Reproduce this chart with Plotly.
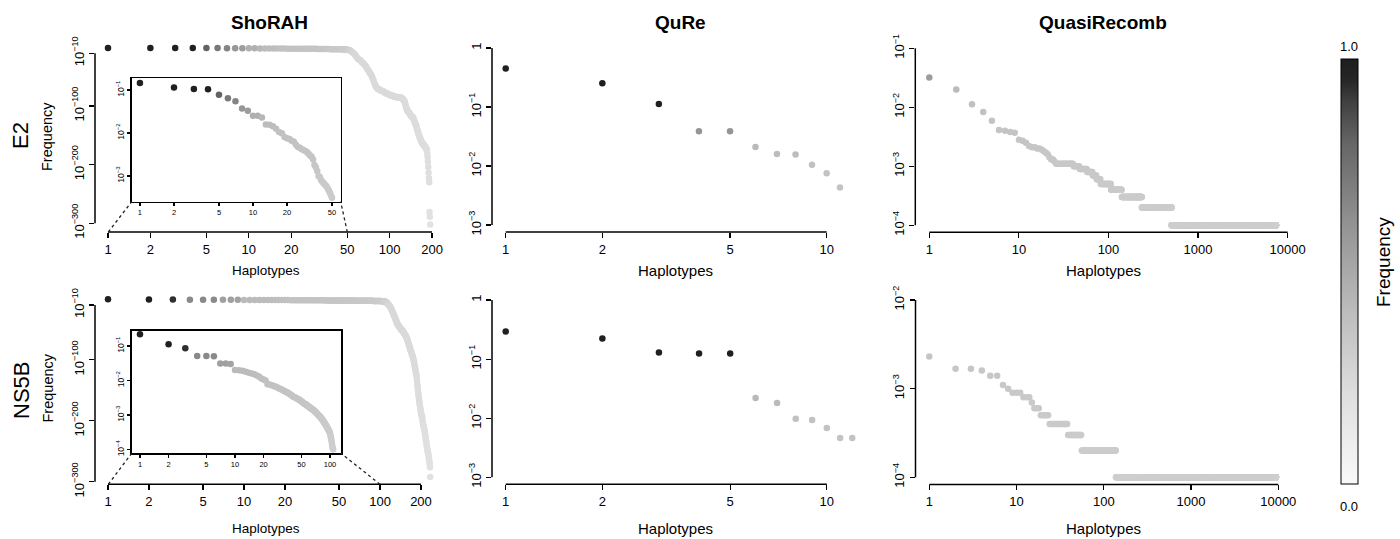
import numpy as np
import plotly.graph_objects as go

W, H = 1400, 539
FONT = "Liberation Sans, Arial, Helvetica, sans-serif"

# ------------------------------------------------------------------ data
# ShoRAH, E2: first 50 haplotypes (shown in inset) + tail (log10 of frequency)
shorah_e2_head = [0.145, 0.115, 0.105, 0.104, 0.077, 0.064, 0.055, 0.037, 0.033, 0.025,
                  0.025, 0.023, 0.0158, 0.0155, 0.0143, 0.0125, 0.0105, 0.0098, 0.0080, 0.0075,
                  0.0072, 0.0066, 0.0062, 0.0053, 0.0047, 0.0045, 0.0042, 0.0040, 0.0038, 0.0036,
                  0.0033, 0.0030, 0.0028, 0.0024, 0.0018, 0.0016, 0.0013, 0.0010, 0.00095, 0.00080,
                  0.00074, 0.00068, 0.00064, 0.00060, 0.00056, 0.00050, 0.00045, 0.00040, 0.00035, 0.00031]
shorah_e2_tail_log10 = [-4.5, -5, -6, -8, -9, -11, -13, -16, -18, -20,
                        -21, -22, -24, -26, -27, -29, -31, -33, -35, -38,
                        -40, -43, -45, -47, -50, -54, -57, -61, -64, -67,
                        -69, -70, -71, -72, -72, -73, -74, -74, -75, -75,
                        -76, -77, -77, -78, -78, -79, -79, -80, -80, -81,
                        -81, -82, -82, -82, -83, -83, -83, -84, -84, -84,
                        -84, -85, -85, -85, -85, -85, -86, -86, -86, -86,
                        -86, -86, -87, -88, -89, -90, -91, -93, -96, -99,
                        -102, -105, -107, -108, -109, -110, -111, -112, -113, -115,
                        -116, -117, -117, -118, -119, -119, -120, -122, -124, -126,
                        -128, -130, -131, -133, -135, -137, -140, -142, -144, -147,
                        -149, -151, -152, -154, -156, -157, -159, -160, -162, -163,
                        -164, -165, -165, -166, -167, -168, -168, -169, -170, -171,
                        -172, -173, -174, -175, -181, -187, -195, -204, -214, -223,
                        -230, -281, -289, -302]

# ShoRAH, NS5B: first 108 haplotypes (inset) + tail (log10 of frequency)
shorah_ns5b_head = [0.22, 0.112, 0.086, 0.051, 0.051, 0.050, 0.031, 0.031, 0.030, 0.0200,
                    0.0198, 0.0190, 0.0180, 0.0168, 0.0160, 0.0152, 0.0140, 0.0128, 0.0115, 0.0106,
                    0.0100, 0.0078, 0.0076, 0.0074, 0.0071, 0.0068, 0.0066, 0.0063, 0.0060, 0.0057,
                    0.0055, 0.0052, 0.0050, 0.0048, 0.0046, 0.0044, 0.0042, 0.0040, 0.0038, 0.0036,
                    0.0034, 0.0033, 0.0032, 0.0031, 0.0030, 0.0029, 0.0028, 0.0027, 0.0026, 0.0025,
                    0.0024, 0.0023, 0.0022, 0.0021, 0.0021, 0.0020, 0.0019, 0.0019, 0.0018, 0.0017,
                    0.0017, 0.0016, 0.0016, 0.0015, 0.0015, 0.0014, 0.0014, 0.00135, 0.0013, 0.00125,
                    0.0012, 0.00115, 0.0011, 0.00105, 0.0010, 0.00098, 0.00095, 0.00091, 0.00088, 0.00084,
                    0.0008, 0.00077, 0.00074, 0.0007, 0.00067, 0.00064, 0.00061, 0.00058, 0.00055, 0.00052,
                    0.0005, 0.00047, 0.00044, 0.00042, 0.0004, 0.00038, 0.00036, 0.00034, 0.00032, 0.0003,
                    0.00026, 0.00023, 0.0002, 0.00017, 0.00014, 0.00012, 0.00011, 0.0001]
shorah_ns5b_tail_log10 = [-4.5, -5, -5.5, -6, -7, -8, -9, -10, -11, -12,
                          -13, -15, -17, -18, -20, -22, -24, -26, -28, -29,
                          -31, -33, -35, -37, -39, -41, -42, -43, -44, -45,
                          -46, -47, -48, -49, -50, -51, -51, -52, -53, -54,
                          -55, -56, -57, -58, -59, -60, -61, -63, -64, -65,
                          -67, -69, -71, -73, -75, -77, -79, -81, -83, -85,
                          -86, -88, -90, -92, -93, -95, -97, -99, -101, -104,
                          -107, -110, -113, -116, -119, -122, -125, -128, -134, -140,
                          -145, -150, -155, -158, -162, -166, -170, -174, -177, -180,
                          -183, -186, -189, -191, -193, -195, -198, -201, -204, -207,
                          -209, -211, -213, -215, -218, -221, -224, -227, -230, -233,
                          -236, -239, -242, -245, -248, -250, -252, -254, -256, -259,
                          -262, -265, -268, -272, -276, -292]

# QuRe
qure_e2 = [0.45, 0.253, 0.113, 0.039, 0.039, 0.021, 0.016, 0.0156, 0.0105, 0.0075, 0.0043]
qure_ns5b = [0.295, 0.224, 0.130, 0.125, 0.125, 0.022, 0.018, 0.0098, 0.0093, 0.0068, 0.0046, 0.0046]

# QuasiRecomb: leading haplotypes, then plateaus (frequency level, number of haplotypes)
qr_e2_head = [0.032, 0.020, 0.0112, 0.0083, 0.0059, 0.0041, 0.0040, 0.0038, 0.0037, 0.0028,
              0.0027, 0.0025, 0.0022, 0.0021, 0.0021, 0.0020, 0.0020, 0.0019, 0.0018, 0.0017,
              0.0016, 0.0014, 0.0013, 0.0013, 0.0012]
qr_e2_levels = [0.0011, 0.0010, 0.0009, 0.0008, 0.0007, 0.0006, 0.0005, 0.0004, 0.0003, 0.0002, 0.0001]
qr_e2_counts = [15, 7, 10, 9, 7, 8, 25, 34, 95, 270, 6895]

qr_ns5b_head = [0.0023, 0.00168, 0.00168, 0.0016, 0.0014, 0.0014, 0.0011, 0.0010, 0.0009, 0.0009,
                0.0009, 0.0008, 0.0008, 0.0008, 0.0007]
qr_ns5b_levels = [0.0006, 0.0005, 0.0004, 0.0003, 0.0002, 0.0001]
qr_ns5b_counts = [3, 5, 15, 17, 82, 9263]

# tick labels
sup = lambda e: "10<sup>\u2212%d</sup>" % e
shorah_xticks = [1, 2, 5, 10, 20, 50, 100, 200]
shorah_yticks = [1e-10, 1e-100, 1e-200, 1e-300]
shorah_ytext = [sup(10), sup(100), sup(200), sup(300)]
inset_e2_xticks = [1, 2, 5, 10, 20, 50]
inset_ns5b_xticks = [1, 2, 5, 10, 20, 50, 100]
inset_e2_yticks = [1e-1, 1e-2, 1e-3]
inset_ns5b_yticks = [1e-1, 1e-2, 1e-3, 1e-4]
qure_xticks = [1, 2, 5, 10]
qure_yticks = [1, 1e-1, 1e-2, 1e-3]
qure_ytext = ["1", sup(1), sup(2), sup(3)]
qr_xticks = [1, 10, 100, 1000, 10000]
qr_e2_yticks = [1e-1, 1e-2, 1e-3, 1e-4]
qr_ns5b_yticks = [1e-2, 1e-3, 1e-4]

# ------------------------------------------------------------------ build series
shorah_e2 = np.array(shorah_e2_head + [10.0 ** e for e in shorah_e2_tail_log10])
shorah_ns5b = np.array(shorah_ns5b_head + [10.0 ** e for e in shorah_ns5b_tail_log10])
qr_e2 = np.concatenate([qr_e2_head, np.repeat(qr_e2_levels, qr_e2_counts)])
qr_ns5b = np.concatenate([qr_ns5b_head, np.repeat(qr_ns5b_levels, qr_ns5b_counts)])


def rank(v):
    return np.arange(1, len(v) + 1)


def greys(freq):
    lf = np.log10(np.asarray(freq, dtype=float))
    xp = [-400, -10, -4, -3, -2, -1.65, -1.5, -1.4, -1.3, -1.2, -1.12, -1.08, -1.0, 0]
    fp = [229, 216, 206, 200, 193, 185, 158, 148, 138, 122, 108, 50, 32, 32]
    g = np.interp(lf, xp, fp).round().astype(int)
    return ["rgb(%d,%d,%d)" % (c, c, c) for c in g]


def px2x(p):
    return p / W


def py2y(p):
    return 1 - p / H


fig = go.Figure()
layout = {}
shapes = []

panels = [
    dict(idx=1, y=shorah_e2, xpx=(95, 443), ypx=(40.8, 232.0), xr=(-0.0923, 2.379), yr=(-315, 11.3),
         xt=shorah_xticks, yt=shorah_yticks, ytt=shorah_ytext, inset=False),
    dict(idx=2, y=shorah_ns5b, xpx=(95, 443), ypx=(292.0, 484.3), xr=(-0.0956, 2.463), yr=(-304, 11.3),
         xt=shorah_xticks, yt=shorah_yticks, ytt=shorah_ytext, inset=False),
    dict(idx=3, y=qure_e2, xpx=(492, 853), ypx=(41.0, 232.0), xr=(-0.0427, 1.082), yr=(-3.12, 0.12),
         xt=qure_xticks, yt=qure_yticks, ytt=qure_ytext, inset=False),
    dict(idx=4, y=qure_ns5b, xpx=(492, 866), ypx=(293.0, 484.3), xr=(-0.0427, 1.122), yr=(-3.12, 0.12),
         xt=qure_xticks, yt=qure_yticks, ytt=qure_ytext, inset=False),
    dict(idx=5, y=qr_e2, xpx=(915.3, 1290), ypx=(41.2, 232.3), xr=(-0.156, 4.026), yr=(-4.12, -0.88),
         xt=qr_xticks, yt=qr_e2_yticks, ytt=[sup(1), sup(2), sup(3), sup(4)], inset=False),
    dict(idx=6, y=qr_ns5b, xpx=(915.5, 1289), ypx=(292.9, 484.4), xr=(-0.158, 4.123), yr=(-4.08, -1.92),
         xt=qr_xticks, yt=qr_ns5b_yticks, ytt=[sup(2), sup(3), sup(4)], inset=False),
    dict(idx=7, y=np.array(shorah_e2_head), xpx=(131.7, 340.7), ypx=(78.3, 201.7), xr=(-0.073, 1.776),
         yr=(-3.6, -0.728), xt=inset_e2_xticks, yt=inset_e2_yticks, ytt=[sup(1), sup(2), sup(3)], inset=True),
    dict(idx=8, y=np.array(shorah_ns5b_head), xpx=(131.7, 341.0), ypx=(330.7, 453.3), xr=(-0.087, 2.116),
         yr=(-4.11, -0.557), xt=inset_ns5b_xticks, yt=inset_ns5b_yticks,
         ytt=[sup(1), sup(2), sup(3), sup(4)], inset=True),
]

for p in panels:
    i = p["idx"]
    xs = "" if i == 1 else str(i)
    ys = p["y"]
    inset = p["inset"]
    fig.add_trace(go.Scatter(
        x=rank(ys), y=ys, mode="markers",
        marker=dict(size=6.5, color=greys(ys), line=dict(width=0)),
        xaxis="x" + xs, yaxis="y" + xs, showlegend=False, hoverinfo="skip"))
    tl = 3 if inset else 5
    layout["xaxis" + xs] = dict(
        type="log", domain=[px2x(p["xpx"][0]), px2x(p["xpx"][1])], range=list(p["xr"]),
        anchor="y" + xs, tickmode="array", tickvals=p["xt"], ticktext=[str(t) for t in p["xt"]],
        ticks="outside", ticklen=tl, tickwidth=1.2, tickcolor="black",
        showgrid=False, zeroline=False, showline=inset, mirror=inset,
        linecolor="black", linewidth=1.5,
        tickfont=dict(size=7.5 if inset else 13, color="black", family=FONT), fixedrange=True)
    layout["yaxis" + xs] = dict(
        type="log", domain=[py2y(p["ypx"][1]), py2y(p["ypx"][0])], range=[p["yr"][0], p["yr"][1]],
        anchor="x" + xs, tickmode="array", tickvals=p["yt"], ticktext=p["ytt"], tickangle=-90,
        ticks="outside", ticklen=tl, tickwidth=1.2, tickcolor="black",
        showgrid=False, zeroline=False, showline=inset, mirror=inset,
        linecolor="black", linewidth=1.5,
        tickfont=dict(size=8.5 if inset else 13, color="black", family=FONT), fixedrange=True)

    if not inset:
        x0p, x1p = p["xpx"]
        y0p, y1p = p["ypx"]
        r0, r1 = p["xr"]
        fx = lambda v: x0p + (np.log10(v) - r0) / (r1 - r0) * (x1p - x0p)
        s0, s1 = p["yr"]
        fy = lambda v: y1p - (np.log10(v) - s0) / (s1 - s0) * (y1p - y0p)
        shapes.append(dict(type="line", xref="paper", yref="paper",
                           x0=px2x(fx(p["xt"][0])), x1=px2x(fx(p["xt"][-1])),
                           y0=py2y(y1p), y1=py2y(y1p), line=dict(color="black", width=1.5)))
        shapes.append(dict(type="line", xref="paper", yref="paper",
                           x0=px2x(x0p), x1=px2x(x0p),
                           y0=py2y(fy(p["yt"][0])), y1=py2y(fy(p["yt"][-1])),
                           line=dict(color="black", width=1.5)))

# dotted zoom connectors
for a, b in [((108.3, 232.0), (131.7, 201.7)),
             ((347.3, 232.0), (340.7, 201.7)),
             ((108.3, 484.3), (131.7, 453.3)),
             ((380.0, 484.3), (341.0, 453.3))]:
    shapes.append(dict(type="line", xref="paper", yref="paper",
                       x0=px2x(a[0]), y0=py2y(a[1]), x1=px2x(b[0]), y1=py2y(b[1]),
                       line=dict(color="#222", width=1.3, dash="dot")))

# colour bar (dummy trace, points outside axis range)
fig.add_trace(go.Scatter(
    x=[1e-5, 1e-5], y=[1e-5, 1e-5], mode="markers", xaxis="x3", yaxis="y3",
    showlegend=False, hoverinfo="skip",
    marker=dict(size=1, color=[0, 1], cmin=0, cmax=1, showscale=True,
                colorscale=[[0, "#f9f9f9"], [0.2, "#e0e0e0"], [0.4, "#bdbdbd"], [0.6, "#959595"],
                            [0.8, "#666666"], [0.9, "#404040"], [0.95, "#262626"], [1, "#1e1e1e"]],
                colorbar=dict(x=px2x(1340.7), xanchor="left", xpad=0, ypad=0,
                              y=py2y(271.5), yanchor="middle", len=425, lenmode="pixels",
                              thickness=17, thicknessmode="pixels", outlinewidth=1,
                              outlinecolor="black", borderwidth=0, showticklabels=False, ticks=""))))

ann = []


def text(x, y, s, size, angle=0, bold=False):
    ann.append(dict(x=px2x(x), y=py2y(y), xref="paper", yref="paper", text=("<b>%s</b>" % s) if bold else s,
                    showarrow=False, textangle=angle, xanchor="center", yanchor="middle",
                    font=dict(size=size, color="black", family=FONT)))


text(269, 22.5, "ShoRAH", 19, bold=True)
text(680, 22.5, "QuRe", 19, bold=True)
text(1103, 22.5, "QuasiRecomb", 19, bold=True)
text(21, 136, "E2", 22, angle=-90)
text(21, 391, "NS5B", 22, angle=-90)
text(47, 137, "Frequency", 14.5, angle=-90)
text(47.5, 388, "Frequency", 14.5, angle=-90)
for cx, sz in [(266, 13.5), (675, 15), (1103, 15)]:
    text(cx, 270, "Haplotypes", sz)
    text(cx, 528, "Haplotypes", sz)
text(1349, 46, "1.0", 13)
text(1349, 506, "0.0", 13)
text(1383, 262, "Frequency", 19, angle=-90)

fig.update_layout(
    width=W, height=H, margin=dict(l=0, r=0, t=0, b=0, pad=0, autoexpand=False),
    paper_bgcolor="white", plot_bgcolor="rgba(0,0,0,0)", showlegend=False,
    shapes=shapes, annotations=ann, font=dict(family=FONT, color="black"),
    **layout)

fig.write_html("out.html", config={"displayModeBar": False, "staticPlot": True},
               post_script="document.body.style.margin='0px';document.body.style.padding='0px';")
